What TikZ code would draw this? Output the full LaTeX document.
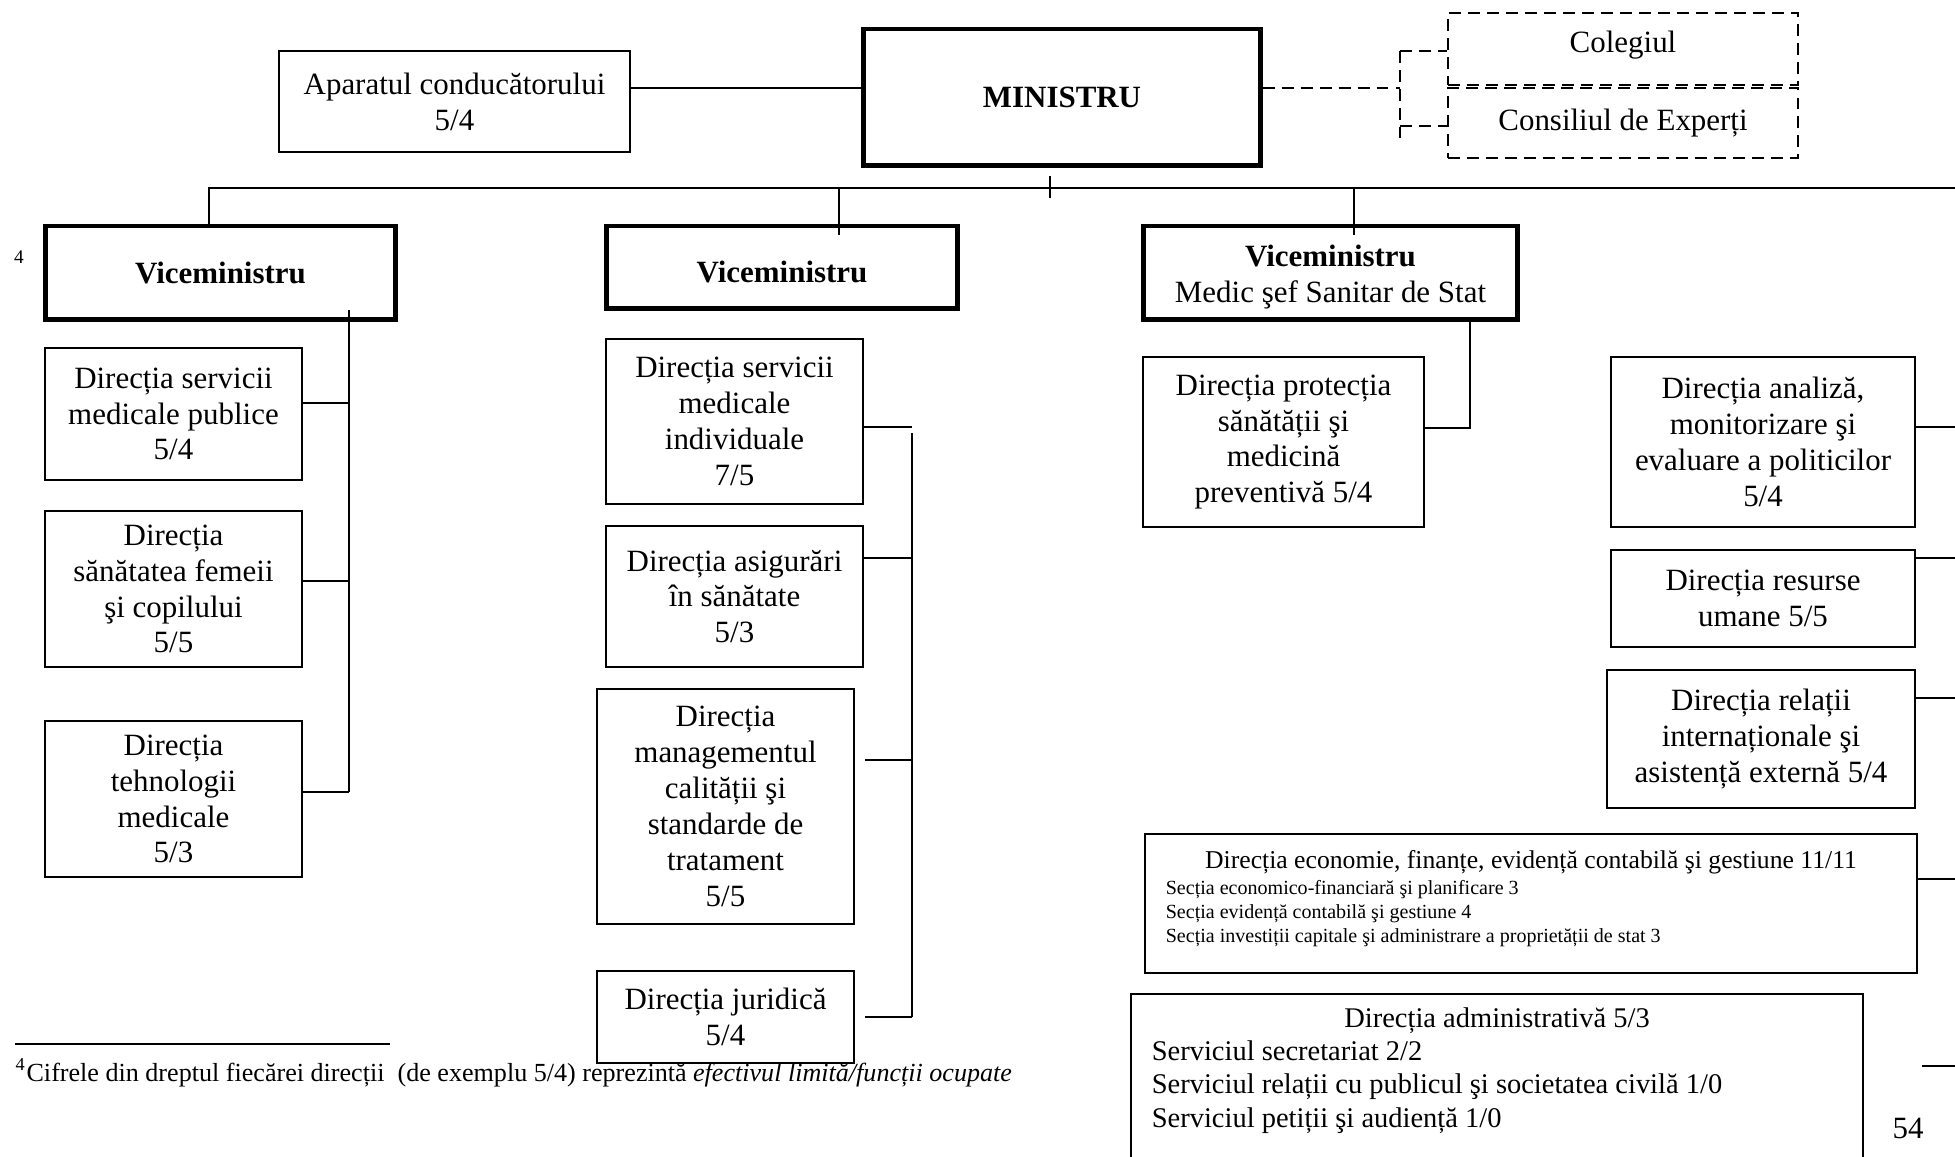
\documentclass[tikz,border=0pt]{standalone}
\usepackage{fontspec}
\setmainfont{Liberation Serif}
\begin{document}
\begin{tikzpicture}[x=0.01cm, y=-0.01cm,
  box/.style={draw, line width=0.6pt, align=center, inner sep=0pt,
    font=\fontsize{8.8}{10.2}\selectfont},
  chief/.style={box, line width=1.4pt},
  panel/.style={box, dash pattern=on 3.4pt off 2pt},
  listbox/.style={box, align=left, anchor=north, inner xsep=0.21cm},
  wh/.style 2 args={minimum width=#1cm, minimum height=#2cm},
  link/.style={line width=0.6pt},
  tap/.style={line width=0.4pt}]

  \useasboundingbox (0,0) rectangle (1955,1156);
  \clip (0,0) rectangle (1955,1156);

  \node[box, wh={3.51}{1.01}] (aparat) at (454.5,101.5) {Aparatul conducătorului\\5/4};
  \node[chief, wh={3.96}{1.36}] (ministru) at (1062,97) {\textbf{MINISTRU}};
  \node[panel, wh={3.50}{0.72}] (colegiu) at (1623,49) {\raisebox{0.04cm}[\height][\depth]{Colegiul}};
  \node[panel, wh={3.50}{0.70}] (consiliu) at (1623,123) {Consiliul de Experți};

  \node[chief, wh={3.49}{0.93}] (vice1) at (220.5,272.5) {\textbf{Viceministru}};
  \node[chief, wh={3.50}{0.82}] (vice2) at (782,267) {\raisebox{-0.05cm}[\height][\depth]{\textbf{Viceministru}}};
  \node[chief, wh={3.73}{0.93}] (vice3) at (1330.5,272.5)
    {\raisebox{-0.05cm}[\height][\depth]{\begin{tabular}{@{}c@{}}\textbf{Viceministru}\\Medic şef Sanitar de Stat\end{tabular}}};

  \node[box, wh={2.57}{1.32}] (dsmp) at (173.5,414) {Direcția servicii\\medicale publice\\5/4};
  \node[box, wh={2.57}{1.56}] (dsfc) at (173.5,589) {Direcția\\sănătatea femeii\\şi copilului\\5/5};
  \node[box, wh={2.57}{1.56}] (dtm) at (173.5,799) {Direcția\\tehnologii\\medicale\\5/3};

  \node[box, wh={2.57}{1.65}] (dsmi) at (734.5,421.5) {Direcția servicii\\medicale\\individuale\\7/5};
  \node[box, wh={2.57}{1.41}] (das) at (734.5,596.5) {Direcția asigurări\\în sănătate\\5/3};
  \node[box, wh={2.57}{2.35}] (dmc) at (725.5,806.5) {Direcția\\managementul\\calității şi\\standarde de\\tratament\\5/5};
  \node[box, wh={2.57}{0.92}] (dj) at (725.5,1017) {Direcția juridică\\5/4};

  \node[box, wh={2.81}{1.70}] (dpsm) at (1283.5,442) {Direcția protecția\\sănătății şi\\medicină\\preventivă 5/4};

  \node[box, wh={3.04}{1.70}] (dam) at (1763,442) {Direcția analiză,\\monitorizare şi\\evaluare a politicilor\\5/4};
  \node[box, wh={3.04}{0.97}] (drum) at (1763,598.5) {Direcția resurse\\umane 5/5};
  \node[box, wh={3.08}{1.38}] (dri) at (1761,739) {Direcția relații\\internaționale şi\\asistență externă 5/4};

  \node[listbox, inner ysep=0.16cm, text depth=0.15cm,
    font=\fontsize{5.7}{6.75}\selectfont] (defc) at (1531,833)
    {\makebox[7.30cm][c]{\fontsize{7.3}{8.5}\selectfont Direcția economie, finanțe, evidență contabilă şi gestiune 11/11}\\[0.8pt]
     Secția economico-financiară şi planificare 3\\
     Secția evidență contabilă şi gestiune 4\\
     Secția investiții capitale şi administrare a proprietății de stat 3};
  \node[listbox, inner ysep=0.14cm, text depth=1cm,
    font=\fontsize{8.1}{9.4}\selectfont] (dadm) at (1497,993)
    {\makebox[6.90cm][c]{Direcția administrativă 5/3}\\
     Serviciul secretariat 2/2\\
     Serviciul relații cu publicul şi societatea civilă 1/0\\
     Serviciul petiții şi audiență 1/0};

  \node[inner sep=0pt, font=\fontsize{5.5}{6}\selectfont] (mark) at (19,257) {4};
  \node[inner sep=0pt, font=\fontsize{8.8}{10}\selectfont] (pageno) at (1908,1128) {54};
  \node[anchor=west, inner sep=0pt, font=\fontsize{7.42}{8.5}\selectfont] (note) at (15,1073)
    {\textsuperscript{4}Cifrele din dreptul fiecărei direcții~ (de exemplu 5/4) reprezintă \textit{efectivul limită/funcții ocupate}};
  \draw[line width=0.8pt] (note.west |- 0,1044) -- (390,1044);

  \draw[link] (aparat.east |- 0,88) -- (ministru.west |- 0,88);
  \coordinate (dsplit) at (1400,88);
  \draw[link, dash pattern=on 3.4pt off 2pt] (ministru.east |- dsplit) -- (dsplit);
  \draw[link, dash pattern=on 3.4pt off 2pt] (dsplit |- 0,51) -- (dsplit |- 0,138);
  \draw[link, dash pattern=on 3.4pt off 2pt] (dsplit |- 0,51) -- (colegiu.west |- 0,51);
  \draw[link, dash pattern=on 3.4pt off 2pt] (dsplit |- 0,126) -- (consiliu.west |- 0,126);

  \coordinate (busL) at (209,188);
  \coordinate (busR) at (1955,188);
  \draw[link] (busL |- vice1.north) -- (busL) -- (busR);
  \draw[tap] ([shift={(-12,8)}]ministru.south) -- ++(0,22);
  \draw[tap] (839,188) -- (vice2.north -| 839,0) -- ++(0,11);
  \draw[tap] (1354,188) -- (vice3.north -| 1354,0) -- ++(0,11);

  \coordinate (spine1) at (349,310);
  \draw[link] (spine1) -- (spine1 |- 0,792);
  \foreach \n/\y in {dsmp/403, dsfc/581, dtm/792}
    \draw[link] (\n.east |- 0,\y) -- (spine1 |- 0,\y);

  \coordinate (spine2) at (912,433);
  \draw[link] (spine2) -- (spine2 |- 0,1017);
  \draw[link] (dsmi.east |- 0,427) -- (spine2 |- 0,427);
  \draw[link] (das.east |- 0,558) -- (spine2 |- 0,558);
  \draw[link, shorten <=0.1cm] (dmc.east |- 0,760) -- (spine2 |- 0,760);
  \draw[link, shorten <=0.1cm] (dj.east |- 0,1017) -- (spine2 |- 0,1017);

  \draw[link] (vice3.south -| 1470,0) |- (dpsm.east |- 0,428);

  \coordinate (edge) at (1955,0);
  \foreach \n/\y in {dam/427, drum/558, dri/698, defc/879}
    \draw[link] (\n.east |- 0,\y) -- (edge |- 0,\y);
  \coordinate (stub) at (1922,1066);
  \draw[link] (stub) -- (edge |- stub);

\end{tikzpicture}
\end{document}
